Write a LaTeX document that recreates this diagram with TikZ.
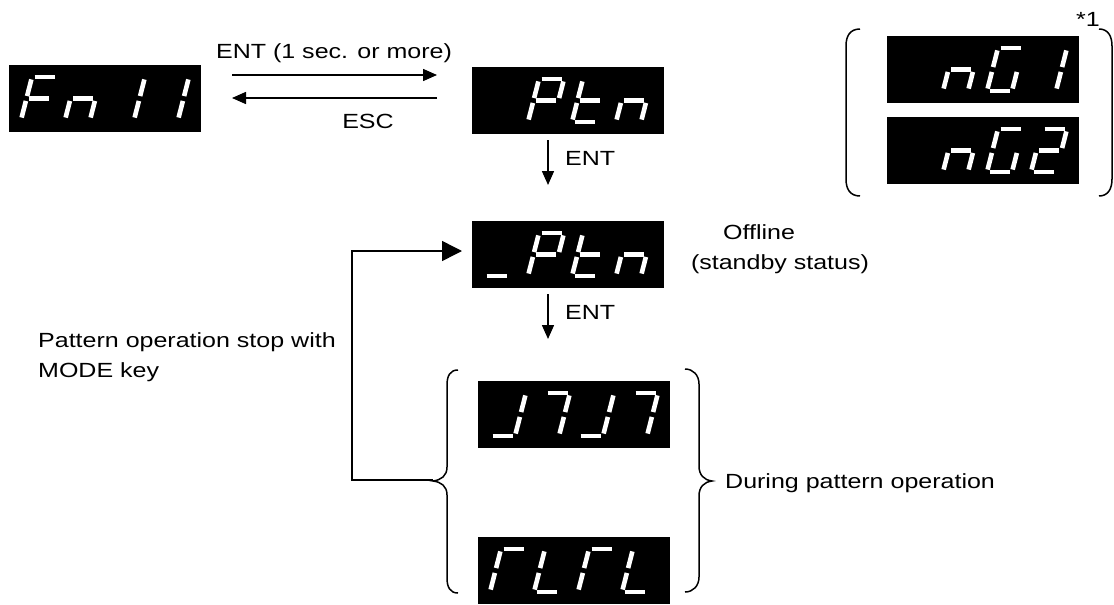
\documentclass[tikz,border=0pt]{standalone}
\usepackage{fontspec}
\setmainfont{Liberation Sans}[FakeStretch=1.22]
\usetikzlibrary{arrows.meta}
\def\sega{\draw[segline] (0,1)--(1,1);}
\def\segb{\draw[segline] (1,0.5)--(1,1);}
\def\segc{\draw[segline] (1,0)--(1,0.5);}
\def\segd{\draw[segline] (0,0)--(1,0);}
\def\sege{\draw[segline] (0,0)--(0,0.5);}
\def\segf{\draw[segline] (0,0.5)--(0,1);}
\def\segg{\draw[segline] (0,0.5)--(1,0.5);}
\def\segz{}
\newcommand{\sdigit}[3]{%
  \begin{scope}[shift={(#1,#2)}]
    \begin{scope}[x={(25pt,0pt)},y={(11pt,43pt)}]
      \foreach \s in {#3}{\csname seg\s\endcsname}
    \end{scope}
  \end{scope}}
\newcommand{\sdisplay}[7]{%
  \node[dispbox, anchor=north west] (#1) at (#2,#3) {};
  \sdigit{#2+12}{#3+55}{#4}
  \sdigit{#2+56}{#3+55}{#5}
  \sdigit{#2+100}{#3+55}{#6}
  \sdigit{#2+144}{#3+55}{#7}}
\begin{document}
\begin{tikzpicture}[x=1pt,y=-1pt,
  font=\fontsize{20.5}{24}\selectfont,
  dispbox/.style={fill=black, draw=none, minimum width=192pt, minimum height=67pt, inner sep=0pt},
  segline/.style={white, line width=4.6pt, shorten <=2.5pt, shorten >=2.5pt},
  lbl/.style={inner sep=0pt},
  arr/.style={line width=1.5pt, -{Triangle[length=14pt,width=12pt]}},
  bigarr/.style={line width=1.5pt, -{Triangle[length=20pt,width=20pt]}},
  brace/.style={line width=1.5pt}]
\useasboundingbox (0,0) rectangle (1114,605);
% displays
\sdisplay{fn}{9}{65}{a,f,e,g}{c,e,g}{b,c}{b,c}
\sdisplay{ptn}{472}{67}{z}{a,b,f,g,e}{f,e,d,g}{c,e,g}
\sdisplay{uptn}{472}{221}{d}{a,b,f,g,e}{f,e,d,g}{c,e,g}
\sdisplay{jj}{478}{381}{b,c,d}{a,b,c}{b,c,d}{a,b,c}
\sdisplay{rl}{478}{537}{a,f,e}{f,e,d}{a,f,e}{f,e,d}
\sdisplay{ng1}{887}{36}{z}{c,e,g}{a,f,e,d,c}{b,c}
\sdisplay{ng2}{887}{117}{z}{c,e,g}{a,f,e,d,c}{a,b,g,e,d}
% coordinates
\coordinate (t1s) at (232,75);  \coordinate (t1e) at (437,75);
\coordinate (t2s) at (437,98);  \coordinate (t2e) at (232,98);
\coordinate (d1s) at (548,140); \coordinate (d1e) at (548,185);
\coordinate (d2s) at (548,294); \coordinate (d2e) at (548,339);
\coordinate (fb0) at (433,480); \coordinate (fb1) at (352,480);
\coordinate (fb2) at (352,251); \coordinate (fb3) at (462,251);
% arrows
\draw[arr] (t1s) -- (t1e);
\draw[arr] (t2s) -- (t2e);
\draw[arr] (d1s) -- (d1e);
\draw[arr] (d2s) -- (d2e);
\draw[bigarr] (fb0) -- (fb1) -- (fb2) -- (fb3);
% braces
\draw[brace] (458,370) .. controls (450,370) and (447,376) .. (447,385) -- (447,467)
  .. controls (447,476) and (441,480) .. (433,481)
  .. controls (441,482) and (447,486) .. (447,495) -- (447,578)
  .. controls (447,587) and (450,593) .. (458,593);
\draw[brace] (685,369) .. controls (693,369) and (699,375) .. (699,384) -- (699,466)
  .. controls (699,475) and (704,480) .. (712,481)
  .. controls (704,482) and (699,487) .. (699,496) -- (699,577)
  .. controls (699,586) and (693,592) .. (685,592);
\draw[brace] (860,29) .. controls (850,29) and (846,36) .. (846,46) -- (846,179)
  .. controls (846,189) and (850,196) .. (860,196);
\draw[brace] (1099,29) .. controls (1108,29) and (1112,36) .. (1112,46) -- (1112,179)
  .. controls (1112,189) and (1108,196) .. (1099,196);
% labels
\node[lbl, anchor=base] (lent1) at (334,58) {ENT (1 sec. or more)};
\node[lbl, anchor=base] (lesc) at (368,128) {ESC};
\node[lbl, anchor=base west] (lent2) at (565,165) {ENT};
\node[lbl, anchor=base west] (lent3) at (565,319) {ENT};
\node[lbl, anchor=base] (loff) at (759,239) {Offline};
\node[lbl, anchor=base] (lstb) at (780,269) {(standby status)};
\node[lbl, anchor=base west] (lpat1) at (38,347) {Pattern operation stop with};
\node[lbl, anchor=base west] (lpat2) at (38,377) {MODE key};
\node[lbl, anchor=base west] (ldur) at (725,488) {During pattern operation};
\node[lbl, anchor=base] (lstar) at (1088,27) {*1};
\end{tikzpicture}
\end{document}
